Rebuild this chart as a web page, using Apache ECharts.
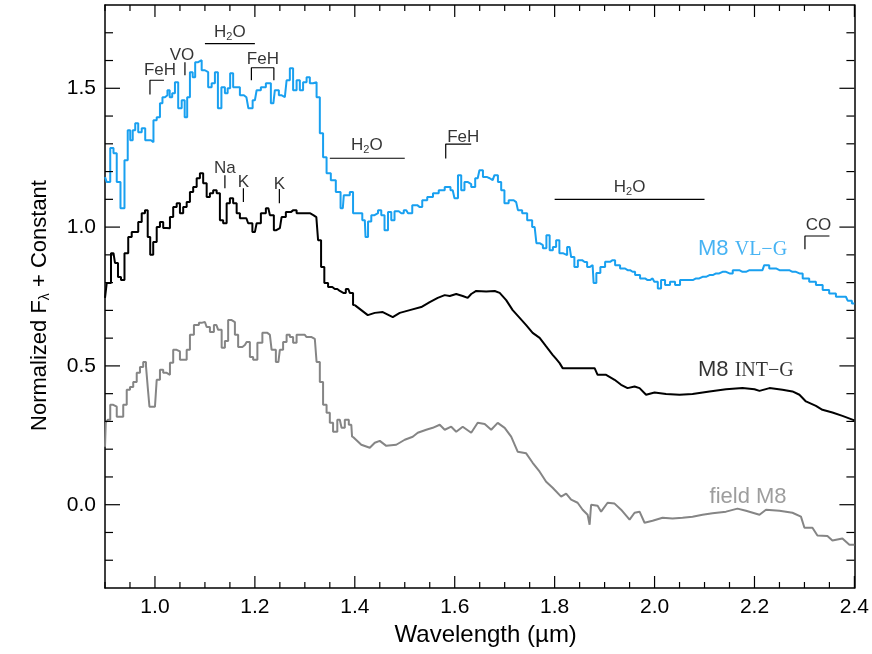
<!DOCTYPE html>
<html>
<head>
<meta charset="utf-8">
<script src="https://cdn.jsdelivr.net/npm/echarts@6/dist/echarts.min.js"></script>
<style>html,body{margin:0;padding:0;background:#fff}#c{width:872px;height:654px}</style>
</head>
<body>
<div id="c"></div>
<script>
// ---------- data ----------
const vlgWave = [0.900,0.907,0.914,0.920,0.927,0.935,0.943,0.948,0.953,0.958,0.963,0.970,0.977,0.984,0.990,0.994,1.000,1.007,1.013,1.017,1.023,1.027,1.032,1.037,1.043,1.050,1.057,1.062,1.067,1.073,1.078,1.083,1.090,1.097,1.103,1.110,1.117,1.123,1.129,1.137,1.143,1.148,1.153,1.160,1.167,1.173,1.183,1.191,1.200,1.207,1.217,1.227,1.237,1.243,1.253,1.260,1.267,1.273,1.280,1.287,1.293,1.300,1.307,1.313,1.320,1.327,1.333,1.340,1.347,1.357,1.367,1.376,1.380,1.387,1.393,1.400,1.410,1.420,1.423,1.430,1.436,1.443,1.450,1.456,1.463,1.470,1.476,1.483,1.493,1.503,1.510,1.520,1.530,1.540,1.550,1.563,1.573,1.587,1.596,1.603,1.610,1.616,1.623,1.630,1.636,1.646,1.653,1.660,1.670,1.676,1.683,1.690,1.696,1.703,1.713,1.723,1.730,1.740,1.750,1.760,1.767,1.773,1.780,1.787,1.793,1.800,1.806,1.813,1.820,1.830,1.836,1.843,1.850,1.860,1.870,1.876,1.880,1.887,1.896,1.906,1.916,1.926,1.936,1.946,1.956,1.966,1.976,1.986,1.996,2.003,2.010,2.016,2.026,2.036,2.046,2.056,2.070,2.083,2.096,2.110,2.123,2.136,2.150,2.163,2.176,2.190,2.203,2.216,2.223,2.236,2.250,2.263,2.276,2.290,2.303,2.316,2.330,2.343,2.356,2.370,2.383,2.390,2.400];
const vlgFlux = [1.180,1.162,1.285,1.266,1.162,1.068,1.241,1.349,1.313,1.349,1.374,1.342,1.356,1.313,1.313,1.306,1.385,1.396,1.446,1.468,1.475,1.493,1.468,1.482,1.522,1.428,1.457,1.396,1.468,1.558,1.540,1.594,1.601,1.565,1.558,1.504,1.518,1.558,1.428,1.504,1.482,1.500,1.554,1.504,1.504,1.475,1.468,1.428,1.457,1.493,1.504,1.518,1.446,1.493,1.475,1.468,1.529,1.572,1.493,1.529,1.493,1.522,1.540,1.518,1.522,1.468,1.338,1.252,1.194,1.169,1.126,1.068,1.115,1.115,1.126,1.050,1.050,1.025,0.964,1.020,1.043,1.050,1.061,1.043,0.989,1.054,1.025,1.057,1.050,1.061,1.050,1.079,1.072,1.097,1.108,1.122,1.133,1.144,1.133,1.104,1.187,1.133,1.162,1.155,1.144,1.176,1.205,1.180,1.176,1.169,1.187,1.162,1.133,1.086,1.097,1.090,1.061,1.050,1.025,1.000,0.942,0.935,0.924,0.971,0.917,0.928,0.953,0.906,0.899,0.928,0.892,0.856,0.881,0.874,0.856,0.863,0.799,0.835,0.856,0.875,0.881,0.863,0.851,0.845,0.839,0.827,0.815,0.809,0.815,0.803,0.779,0.809,0.791,0.803,0.791,0.809,0.809,0.815,0.821,0.827,0.833,0.839,0.833,0.845,0.839,0.845,0.845,0.845,0.863,0.851,0.845,0.845,0.839,0.833,0.815,0.803,0.791,0.773,0.761,0.749,0.749,0.735,0.725];

const intgWave = [0.900,0.907,0.917,0.923,0.929,0.935,0.943,0.950,0.957,0.963,0.970,0.977,0.983,0.988,0.993,1.000,1.007,1.013,1.020,1.027,1.033,1.040,1.047,1.053,1.060,1.067,1.073,1.080,1.087,1.093,1.100,1.107,1.113,1.120,1.127,1.133,1.140,1.147,1.153,1.160,1.167,1.173,1.183,1.190,1.200,1.207,1.217,1.227,1.233,1.243,1.250,1.257,1.267,1.277,1.290,1.303,1.317,1.323,1.330,1.335,1.343,1.350,1.360,1.370,1.377,1.387,1.393,1.400,1.413,1.426,1.440,1.456,1.476,1.490,1.510,1.533,1.550,1.566,1.580,1.590,1.603,1.616,1.626,1.633,1.643,1.663,1.680,1.690,1.703,1.716,1.730,1.743,1.756,1.770,1.783,1.796,1.803,1.810,1.816,1.843,1.880,1.886,1.903,1.920,1.933,1.946,1.960,1.970,1.983,2.000,2.023,2.050,2.076,2.110,2.143,2.176,2.200,2.210,2.230,2.256,2.276,2.290,2.303,2.323,2.336,2.356,2.376,2.400];
const intgFlux = [0.745,0.799,0.906,0.871,0.820,0.809,0.906,0.964,0.982,0.982,1.018,1.050,1.061,0.964,0.900,0.946,1.000,1.018,0.997,0.996,1.036,1.072,1.086,1.050,1.072,1.090,1.126,1.144,1.176,1.194,1.158,1.108,1.122,1.133,1.122,1.025,1.014,1.086,1.104,1.086,1.050,1.032,1.032,1.014,0.982,1.014,1.050,1.068,1.043,0.989,0.996,1.036,1.054,1.061,1.050,1.050,1.043,1.036,0.953,0.856,0.799,0.784,0.777,0.770,0.763,0.777,0.763,0.719,0.701,0.683,0.691,0.694,0.676,0.691,0.701,0.712,0.730,0.745,0.755,0.752,0.759,0.752,0.745,0.759,0.770,0.768,0.770,0.763,0.737,0.701,0.673,0.647,0.619,0.601,0.570,0.540,0.525,0.510,0.492,0.492,0.492,0.468,0.468,0.450,0.432,0.420,0.426,0.420,0.396,0.404,0.399,0.396,0.399,0.408,0.416,0.420,0.416,0.410,0.420,0.414,0.408,0.396,0.372,0.356,0.342,0.332,0.320,0.304];

const fieldWave = [0.900,0.903,0.908,0.913,0.920,0.927,0.933,0.940,0.947,0.953,0.960,0.967,0.973,0.980,0.984,0.987,0.991,1.000,1.007,1.013,1.020,1.027,1.033,1.040,1.047,1.053,1.060,1.067,1.073,1.083,1.093,1.100,1.107,1.113,1.123,1.130,1.137,1.143,1.150,1.157,1.163,1.170,1.180,1.187,1.193,1.200,1.210,1.220,1.230,1.237,1.247,1.253,1.260,1.267,1.273,1.280,1.287,1.300,1.307,1.320,1.327,1.333,1.340,1.347,1.353,1.360,1.370,1.377,1.383,1.393,1.396,1.413,1.430,1.440,1.450,1.463,1.483,1.500,1.516,1.526,1.543,1.556,1.570,1.580,1.593,1.603,1.616,1.633,1.646,1.660,1.673,1.686,1.700,1.713,1.726,1.743,1.756,1.770,1.783,1.796,1.813,1.823,1.833,1.846,1.856,1.866,1.870,1.873,1.886,1.893,1.906,1.920,1.933,1.950,1.960,1.970,1.980,1.996,2.016,2.036,2.056,2.076,2.096,2.116,2.143,2.166,2.183,2.210,2.223,2.250,2.276,2.293,2.300,2.316,2.326,2.346,2.356,2.376,2.390,2.400];
const fieldFlux = [0.209,0.295,0.306,0.360,0.353,0.317,0.317,0.360,0.414,0.424,0.442,0.475,0.496,0.514,0.500,0.424,0.353,0.353,0.450,0.486,0.475,0.468,0.511,0.558,0.552,0.522,0.522,0.558,0.612,0.647,0.655,0.658,0.640,0.622,0.647,0.630,0.565,0.590,0.665,0.658,0.612,0.568,0.575,0.586,0.532,0.522,0.583,0.619,0.612,0.558,0.514,0.558,0.586,0.612,0.604,0.583,0.612,0.612,0.604,0.597,0.514,0.442,0.360,0.331,0.295,0.263,0.306,0.277,0.306,0.288,0.245,0.216,0.205,0.223,0.230,0.212,0.216,0.234,0.245,0.259,0.270,0.277,0.288,0.270,0.281,0.263,0.281,0.259,0.295,0.291,0.270,0.295,0.277,0.245,0.191,0.185,0.151,0.119,0.083,0.061,0.029,0.040,0.018,0.007,-0.018,-0.036,-0.072,0.000,-0.004,-0.025,0.007,0.004,-0.018,-0.054,-0.029,-0.025,-0.065,-0.058,-0.047,-0.050,-0.047,-0.043,-0.036,-0.031,-0.025,-0.014,-0.022,-0.036,-0.018,-0.022,-0.029,-0.043,-0.083,-0.083,-0.111,-0.113,-0.129,-0.122,-0.144,-0.144];

// wavelength below which spectra are drawn as histogram steps
const stepLimit = 1.40;

// axis ticks and tick labels
const xMajorTicks = [1.0,1.2,1.4,1.6,1.8,2.0,2.2,2.4];
const xMinorTicks = [0.90,0.95,1.05,1.10,1.15,1.25,1.30,1.35,1.45,1.50,1.55,1.65,1.70,1.75,1.85,1.90,1.95,2.05,2.10,2.15,2.25,2.30,2.35];
const yMajorTicks = [0.0,0.5,1.0,1.5];
const yMinorTicks = [-0.2,-0.1,0.1,0.2,0.3,0.4,0.6,0.7,0.8,0.9,1.1,1.2,1.3,1.4,1.6,1.7];

// feature annotations (data coordinates)
const bandLines = [[1.100,1.200,1.661],[1.350,1.500,1.248],[1.800,2.100,1.100]];           // [x1,x2,y]
const brackets = [[0.990,1.018,1.529,1.478,false],[1.193,1.238,1.574,1.529,true],
                  [1.582,1.633,1.299,1.247,false],[2.301,2.350,0.968,0.920,false]];        // [x1,x2,yTop,yBottom,bothEnds]
const featureTicks = [[1.060,1.594,1.547],[1.140,1.187,1.140],[1.177,1.140,1.090],[1.249,1.137,1.086]]; // [x,y1,y2]
const featureNames = ['FeH','VO','H2O','FeH','Na','K','K','H2O','FeH','H2O','CO'];
const featureX = [1.010,1.054,1.150,1.216,1.140,1.177,1.249,1.424,1.617,1.950,2.328];
const featureY = [1.565,1.619,1.701,1.604,1.212,1.162,1.155,1.295,1.325,1.142,1.007];

// spectrum labels
const specNames = ['VL−G','INT−G','field M8'];
const specLabelX = [2.087,2.087,2.110];
const specLabelY = [0.923,0.486,0.028];

// ---------- chart ----------
const SANS = 'Liberation Sans';
const SERIF = 'Liberation Serif';
const BLUE = '#19A0F0', BLACK = '#000000', GREY = '#858585';
const XMIN = 0.9, XMAX = 2.4, YMIN = -0.3, YMAX = 1.8;

function pairs(xs, ys){ return xs.map((x,i)=>[x, ys[i]]); }
function before(xs, ys, lim){ const d=[]; xs.forEach((x,i)=>{ if(x<=lim) d.push([x,ys[i]]); }); return d; }
function after(xs, ys, lim){ const d=[]; let last=null; xs.forEach((x,i)=>{ if(x<=lim) last=[x,ys[i]]; else d.push([x,ys[i]]); }); if(last) d.unshift(last); return d; }

const series = [];
function lineSeries(data, color, width, step){
  series.push({type:'line', data, step: step ? 'middle' : false, symbol:'none', silent:true,
    lineStyle:{color, width}, z:3, clip:true});
}
lineSeries(pairs(vlgWave, vlgFlux), BLUE, 2, true);
lineSeries(before(intgWave, intgFlux, stepLimit), BLACK, 2, true);
lineSeries(after(intgWave, intgFlux, stepLimit), BLACK, 2, false);
lineSeries(before(fieldWave, fieldFlux, stepLimit), GREY, 2, true);
lineSeries(after(fieldWave, fieldFlux, stepLimit), GREY, 2, false);

bandLines.forEach(b => lineSeries([[b[0],b[2]],[b[1],b[2]]], BLACK, 1.2, false));
brackets.forEach(b => {
  const d = [[b[0],b[3]],[b[0],b[2]],[b[1],b[2]]];
  if (b[4]) d.push([b[1],b[3]]);
  lineSeries(d, BLACK, 1.2, false);
});
featureTicks.forEach(t => lineSeries([[t[0],t[1]],[t[0],t[2]]], BLACK, 1.2, false));

const rich = {
  n:{fontFamily:SANS, fontSize:17, color:'#000'},
  s:{fontFamily:SANS, fontSize:11, color:'#000', padding:[9,0,0,0]}
};
series.push({
  type:'scatter', symbolSize:0, silent:true, z:5,
  data: featureNames.map((n,i)=>({value:[featureX[i],featureY[i]], name:n})),
  label:{show:true, position:[0,0], align:'center', verticalAlign:'middle',
    formatter: p => p.name === 'H2O' ? '{n|H}{s|2}{n|O}' : '{n|' + p.name + '}', rich}
});
const specColors = [BLUE, BLACK, GREY];
specNames.forEach((n,i) => {
  const isField = n.indexOf('field') === 0;
  series.push({
    type:'scatter', symbolSize:0, silent:true, z:5,
    data:[{value:[specLabelX[i], specLabelY[i]], name:n}],
    label:{show:true, position:[0,0], align:'left', verticalAlign:'middle',
      formatter: p => isField ? '{a|' + p.name + '}' : '{a|M8 }{b|' + p.name + '}',
      rich:{ a:{fontFamily:SANS, fontSize:22, color:specColors[i]},
             b:{fontFamily:SERIF, fontSize:20, color:specColors[i], padding:[2,0,0,0]} }}
  });
});

// inward ticks on all four sides, placed through the axis scales
const tickData = [];
xMajorTicks.forEach(v => tickData.push([v, 0, 12]));
xMinorTicks.forEach(v => tickData.push([v, 0, 6]));
yMajorTicks.forEach(v => tickData.push([v, 1, 15]));
yMinorTicks.forEach(v => tickData.push([v, 1, 8]));
series.push({
  type:'custom', silent:true, z:6, clip:false,
  data: tickData,
  encode:{x:-1, y:-1},
  renderItem: (params, api) => {
    const v = api.value(0), isY = api.value(1) === 1, len = api.value(2);
    const style = {stroke:'#000', lineWidth:1.2};
    if (!isY) {
      const b = api.coord([v, YMIN]), t = api.coord([v, YMAX]);
      return {type:'group', children:[
        {type:'line', shape:{x1:b[0], y1:b[1], x2:b[0], y2:b[1]-len}, style},
        {type:'line', shape:{x1:t[0], y1:t[1], x2:t[0], y2:t[1]+len}, style}]};
    }
    const l = api.coord([XMIN, v]), r = api.coord([XMAX, v]);
    return {type:'group', children:[
      {type:'line', shape:{x1:l[0], y1:l[1], x2:l[0]+len, y2:l[1]}, style},
      {type:'line', shape:{x1:r[0], y1:r[1], x2:r[0]-len, y2:r[1]}, style}]};
  }
});

const axisLineStyle = {color:'#000', width:1.5};
const option = {
  animation:false,
  backgroundColor:'#fff',
  grid:{left:105, right:17, top:5, bottom:66},
  xAxis:[
    {type:'value', position:'bottom', min:XMIN, max:XMAX,
     axisLine:{show:true, onZero:false, lineStyle:axisLineStyle}, splitLine:{show:false},
     axisTick:{show:false},
     axisLabel:{show:true, customValues:xMajorTicks, formatter:v=>v.toFixed(1), fontFamily:SANS, fontSize:21, color:'#000', margin:9},
     name:'Wavelength (µm)', nameLocation:'middle', nameGap:32,
     nameTextStyle:{fontFamily:SANS, fontSize:24, color:'#000', padding:[0,0,0,12]}},
    {type:'value', position:'top', min:XMIN, max:XMAX,
     axisLine:{show:true, onZero:false, lineStyle:axisLineStyle}, splitLine:{show:false},
     axisTick:{show:false}, axisLabel:{show:false}}
  ],
  yAxis:[
    {type:'value', position:'left', min:YMIN, max:YMAX,
     axisLine:{show:true, onZero:false, lineStyle:axisLineStyle}, splitLine:{show:false},
     axisTick:{show:false},
     axisLabel:{show:true, customValues:yMajorTicks, formatter:v=>v.toFixed(1), fontFamily:SANS, fontSize:21, color:'#000', margin:9},
     name:'{n|Normalized F}{s|λ}{n| + Constant}', nameLocation:'middle', nameGap:53,
     nameTextStyle:{padding:[0,18,0,0], rich:{n:{fontFamily:SANS, fontSize:22, color:'#000'}, s:{fontFamily:SANS, fontSize:14, color:'#000', padding:[10,0,0,0]}}}},
    {type:'value', position:'right', min:YMIN, max:YMAX,
     axisLine:{show:true, onZero:false, lineStyle:axisLineStyle}, splitLine:{show:false},
     axisTick:{show:false}, axisLabel:{show:false}}
  ],
  series: series.map(s => Object.assign({xAxisIndex:0, yAxisIndex:0}, s))
};
const chart = echarts.init(document.getElementById('c'), null, {renderer:'canvas'});
chart.setOption(option);
</script>
</body>
</html>
